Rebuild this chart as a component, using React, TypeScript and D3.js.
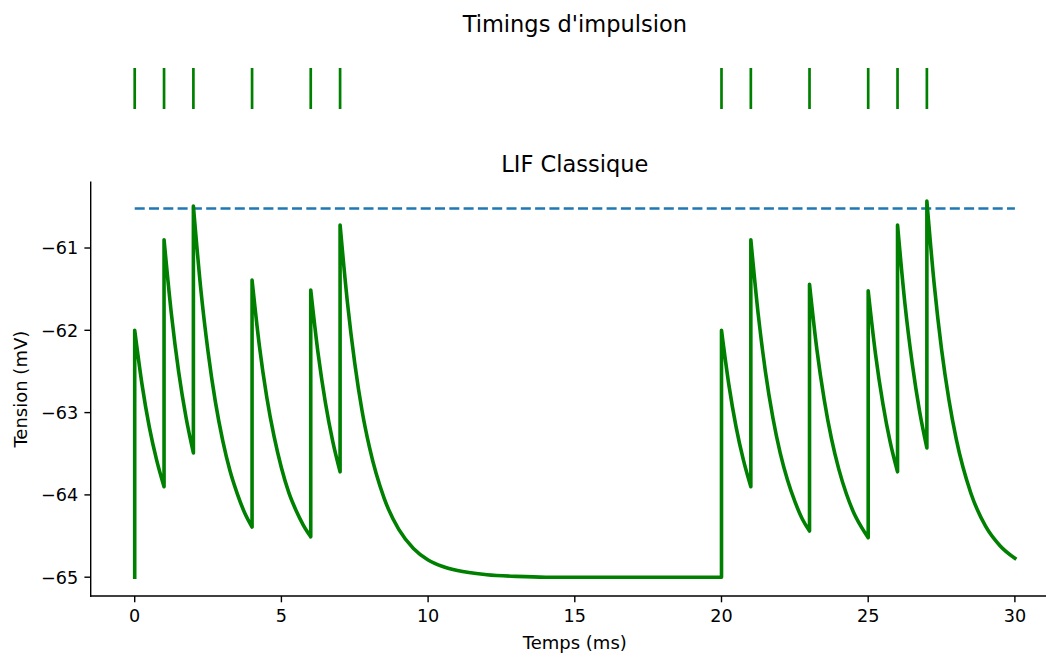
import React from "react";
import * as d3 from "d3";

// ---- data ----
const spikeTimes: number[] = [0, 1, 2, 4, 6, 7, 20, 21, 23, 25, 26, 27];

const traceT: number[] = [
  0, 0, 0.25, 0.5, 0.75, 1,
  1, 1.25, 1.5, 1.75, 2,
  2, 2.25, 2.5, 2.75, 3, 3.25, 3.5, 3.75, 4,
  4, 4.25, 4.5, 4.75, 5, 5.25, 5.5, 5.75, 6,
  6, 6.25, 6.5, 6.75, 7,
  7, 7.25, 7.5, 7.75, 8, 8.5, 9, 9.5, 10, 10.5, 11, 12, 13, 14, 17, 20,
  20, 20.25, 20.5, 20.75, 21,
  21, 21.25, 21.5, 21.75, 22, 22.25, 22.5, 22.75, 23,
  23, 23.25, 23.5, 23.75, 24, 24.25, 24.5, 24.75, 25,
  25, 25.25, 25.5, 25.75, 26,
  26, 26.25, 26.5, 26.75, 27,
  27, 27.25, 27.5, 27.75, 28, 28.5, 29, 29.5, 30,
];

const traceV: number[] = [
  -65, -62.0, -62.66, -63.18, -63.58, -63.9,
  -60.9, -61.8, -62.51, -63.06, -63.49,
  -60.49, -61.49, -62.26, -62.87, -63.34, -63.71, -63.99, -64.22, -64.39,
  -61.39, -62.19, -62.81, -63.29, -63.67, -63.97, -64.19, -64.37, -64.51,
  -61.51, -62.28, -62.88, -63.35, -63.72,
  -60.72, -61.66, -62.4, -62.98, -63.42, -64.04, -64.42, -64.65, -64.79, -64.87, -64.92, -64.97, -64.99, -65.0, -65.0, -65.0,
  -62.0, -62.66, -63.18, -63.58, -63.9,
  -60.9, -61.8, -62.51, -63.06, -63.49, -63.82, -64.08, -64.29, -64.44,
  -61.44, -62.23, -62.84, -63.32, -63.69, -63.98, -64.21, -64.38, -64.52,
  -61.52, -62.29, -62.89, -63.36, -63.72,
  -60.72, -61.67, -62.4, -62.98, -63.43,
  -60.43, -61.44, -62.23, -62.84, -63.32, -63.98, -64.38, -64.62, -64.77,
];

const threshold = -60.52;
const thresholdRange: number[] = [0, 30];
const xTicks: number[] = [0, 5, 10, 15, 20, 25, 30];
const yTicks: number[] = [-65, -64, -63, -62, -61];

const topTitle = "Timings d'impulsion";
const mainTitle = "LIF Classique";
const xLabel = "Temps (ms)";
const yLabel = "Tension (mV)";

// ---- layout ----
const W = 1046;
const H = 653;
const left = 90.7;
const right = 1058.9;
const top = 182.3;
const bottom = 596;
const FONT = "'DejaVu Sans', sans-serif";
const tickFont = 17.6;
const labelFont = 18;
const titleFont = 22.5;
const green = "#008000";
const blue = "#1f77b4";

export default function App() {
  const x = d3.scaleLinear().domain([-1.5, 31.5]).range([left, right]);
  const vMin = d3.min(traceV)!;
  const vMax = d3.max(traceV)!;
  const pad = (vMax - vMin) * 0.05;
  const y = d3.scaleLinear().domain([vMin - pad, vMax + pad]).range([bottom, top]);

  const pts: [number, number][] = traceT.map((t, i) => [t, traceV[i]]);
  const segs: [number, number][][] = [];
  let cur: [number, number][] = [pts[0]];
  for (let i = 1; i < pts.length; i++) {
    if (pts[i][0] === pts[i - 1][0]) {
      segs.push(cur);
      cur = [pts[i]];
    } else cur.push(pts[i]);
  }
  segs.push(cur);
  const lineGen = d3
    .line<[number, number]>()
    .x((d) => x(d[0]))
    .y((d) => y(d[1]))
    .curve(d3.curveMonotoneX);
  const dPath = segs
    .map((s, i) => {
      const p = (lineGen(s) || "").replace(/Z/g, "");
      return i === 0 ? p : "L" + p.slice(1);
    })
    .join("");

  const tickLen = 6.3;
  const tickPad = 6.3;

  return (
    <svg
      width={W}
      height={H}
      style={{ position: "absolute", left: 0, top: 0, background: "#fff" }}
      fontFamily={FONT}
    >
      <rect width={W} height={H} fill="#fff" />
      {/* top raster */}
      <text x={(left + right) / 2} y={32} textAnchor="middle" fontSize={titleFont} fill="#000">
        {topTitle}
      </text>
      {spikeTimes.map((t, i) => (
        <line key={i} x1={x(t)} x2={x(t)} y1={68} y2={109} stroke={green} strokeWidth={2.7} />
      ))}

      {/* main axes */}
      <text x={(left + right) / 2} y={171.5} textAnchor="middle" fontSize={titleFont} fill="#000">
        {mainTitle}
      </text>
      <line
        x1={x(thresholdRange[0])}
        x2={x(thresholdRange[1])}
        y1={y(threshold)}
        y2={y(threshold)}
        stroke={blue}
        strokeWidth={2.7}
        strokeDasharray="10,4.3"
      />
      <path d={dPath} fill="none" stroke={green} strokeWidth={3.6} strokeLinejoin="round" strokeLinecap="square" />

      {/* spines */}
      <line x1={left} x2={left} y1={top} y2={bottom} stroke="#000" strokeWidth={1.4} strokeLinecap="square" />
      <line x1={left} x2={right} y1={bottom} y2={bottom} stroke="#000" strokeWidth={1.4} strokeLinecap="square" />

      {/* x ticks */}
      {xTicks.map((t) => (
        <g key={t}>
          <line x1={x(t)} x2={x(t)} y1={bottom} y2={bottom + tickLen} stroke="#000" strokeWidth={1.4} />
          <text x={x(t)} y={bottom + tickLen + tickPad + 13} textAnchor="middle" fontSize={tickFont} fill="#000">
            {String(t)}
          </text>
        </g>
      ))}
      {/* y ticks */}
      {yTicks.map((v) => (
        <g key={v}>
          <line x1={left - tickLen} x2={left} y1={y(v)} y2={y(v)} stroke="#000" strokeWidth={1.4} />
          <text
            x={left - tickLen - tickPad}
            y={y(v)}
            dy="0.36em"
            textAnchor="end"
            fontSize={tickFont}
            fill="#000"
          >
            {v < 0 ? "\u2212" + Math.abs(v) : String(v)}
          </text>
        </g>
      ))}

      <text x={(left + right) / 2} y={649} textAnchor="middle" fontSize={labelFont} fill="#000">
        {xLabel}
      </text>
      <text
        transform={`translate(27,${(top + bottom) / 2}) rotate(-90)`}
        textAnchor="middle"
        fontSize={labelFont}
        fill="#000"
      >
        {yLabel}
      </text>
    </svg>
  );
}
